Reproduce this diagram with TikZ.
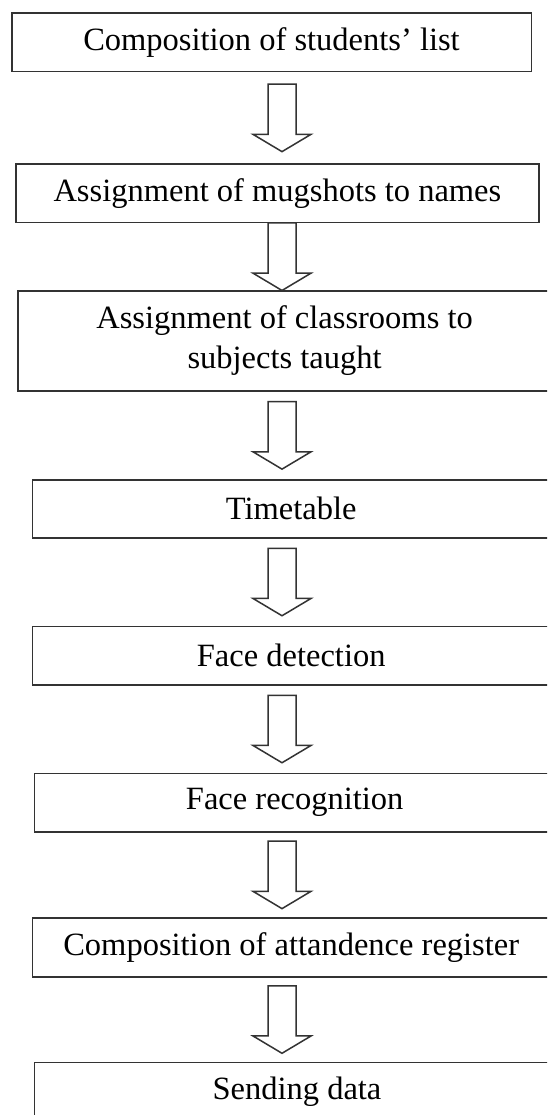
\documentclass[tikz,border=0pt]{standalone}
\usepackage{fontspec}
\setmainfont{Liberation Serif}
\usetikzlibrary{calc}

\begin{document}
\begin{tikzpicture}[x=1pt,y=-1pt,
		box/.style={draw=black!80, line width=1.6pt, fill=white, inner sep=0pt, align=center, font=\fontsize{32.5}{40}\selectfont},
		flow/.style={draw=black!80, line width=1.5pt, fill=white,
			to path={let \p1=(\tikztostart.south), \p2=(\tikztotarget.north), \p3=(axis), \n1={0.5*\y1+0.5*\y2} in
				(\x3-14pt,\n1+33.75pt) -- (\x3+14pt,\n1+33.75pt) -- (\x3+14pt,\n1-16.45pt) -- (\x3+29pt,\n1-16.45pt)
				-- (\x3,\n1-33.75pt) -- (\x3-29pt,\n1-16.45pt) -- (\x3-14pt,\n1-16.45pt) -- cycle}}]
		\useasboundingbox (0,0) rectangle (547,1115);
		\fill[white] (0,0) rectangle (547,1115);
		\clip (0,0) rectangle (547,1115);
		
		\coordinate (axis) at (282,0);
		
		\node[box, minimum width=519.6pt, minimum height=58.2pt] (b1) at (271.5,42.4) {Composition of students’ list};
		\node[box, minimum width=522.7pt, minimum height=58.4pt] (b2) at (277.4,193.5) {Assignment of mugshots to names};
		\node[box, minimum width=532.7pt, minimum height=100.3pt] (b3) at (284.6,340.9) {Assignment of classrooms to\\subjects taught};
		\node[box, minimum width=517.7pt, minimum height=58pt] (b4) at (291.2,508.7) {Timetable};
		
		\node[box, minimum width=517.7pt, minimum height=58.4pt] (b5) at (291.2,655.5) {Face detection};
		\node[box, minimum width=520.7pt, minimum height=58.4pt] (b6) at (294.7,802.5) {Face recognition};
		\node[box, minimum width=517.7pt, minimum height=58.7pt] (b7) at (291.2,947.4) {Composition of attandence register};
		\node[box, minimum width=525pt, minimum height=58.4pt] (b8) at (297,1091.5) {Sending data};
		
		\draw[flow] (b1) to (b2);
		\draw[flow] (b2) to (b3);
		\draw[flow] (b3) to (b4);
		\draw[flow] (b4) to (b5);
		\draw[flow] (b5) to (b6);
		\draw[flow] (b6) to (b7);
		\draw[flow] (b7) to (b8);

	\end{tikzpicture}
\end{document}
